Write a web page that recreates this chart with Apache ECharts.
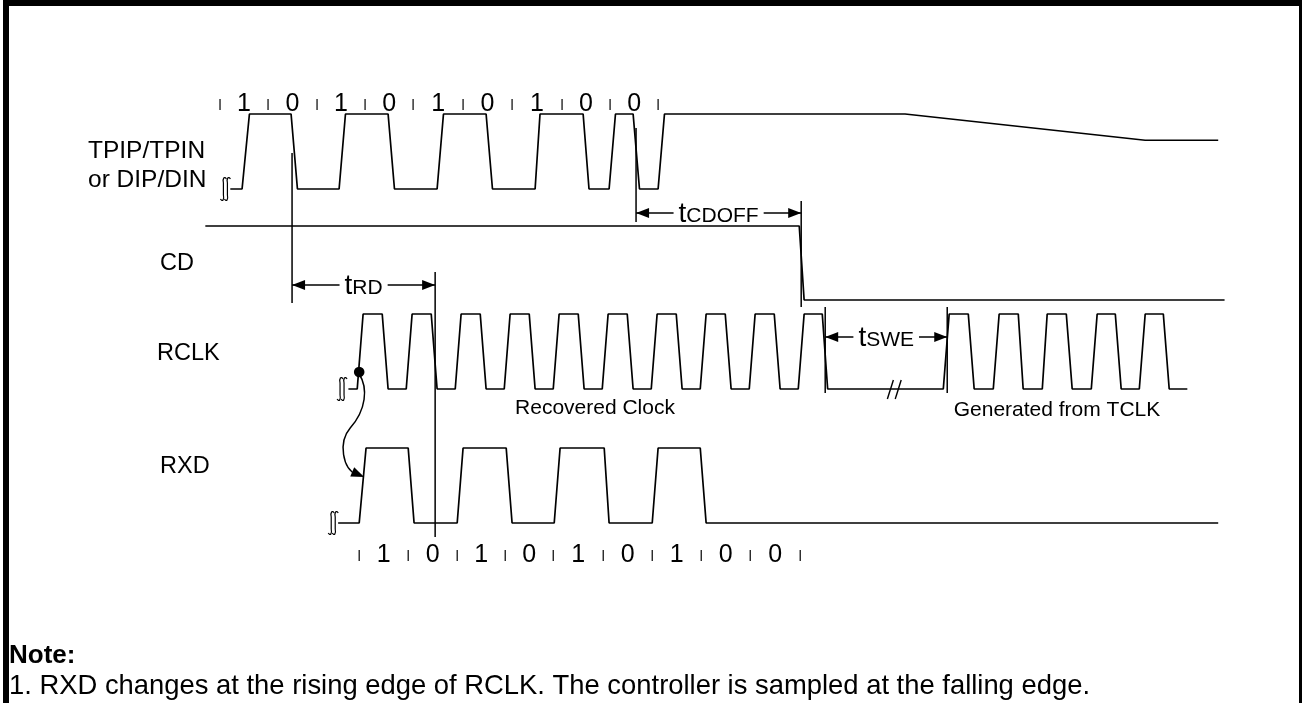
<!DOCTYPE html>
<html>
<head>
<meta charset="utf-8">
<script src="https://cdn.jsdelivr.net/npm/echarts@6/dist/echarts.min.js"></script>
<style>
  html, body { margin: 0; padding: 0; background: #fff; }
  #chart { width: 1302px; height: 703px; }
</style>
</head>
<body>
<div id="chart"></div>
<script>
// time in ns, 0 = first rising edge of the recovered RCLK
const tpipT = [-259, -235, -220, -135, -122, -37, -24, 63, 76, 163, 176, 263, 276, 363, 373, 461, 473, 514, 527, 563, 576, 614, 627, 1118, 1608, 1757];
const tpipV = [0, 0, 1, 1, 0, 0, 1, 1, 0, 0, 1, 1, 0, 0, 1, 1, 0, 0, 1, 1, 0, 0, 1, 1, 0.65, 0.65];

const cdT = [-310, 902, 912, 1770];
const cdV = [1, 1, 0, 0];

const rclkT = [-18, 0, 12, 51, 63, 100, 112, 151, 163, 200, 212, 251, 263, 300, 312, 351, 363,
  400, 412, 451, 463, 500, 512, 551, 563, 600, 612, 651, 663, 700, 712, 751, 763,
  800, 812, 851, 863, 900, 912, 949, 960,
  1196, 1208, 1247, 1259, 1298, 1310, 1349, 1359, 1398, 1408, 1447, 1459,
  1498, 1510, 1547, 1559, 1596, 1608, 1645, 1657, 1694];
const rclkV = [0, 0, 1, 1, 0, 0, 1, 1, 0, 0, 1, 1, 0, 0, 1, 1, 0,
  0, 1, 1, 0, 0, 1, 1, 0, 0, 1, 1, 0, 0, 1, 1, 0,
  0, 1, 1, 0, 0, 1, 1, 0,
  0, 1, 1, 0, 0, 1, 1, 0, 0, 1, 1, 0,
  0, 1, 1, 0, 0, 1, 1, 0, 0];

const rxdT = [-39, 4, 18, 104, 116, 204, 216, 304, 316, 402, 414, 504, 514, 602, 614, 700, 712, 1757];
const rxdV = [0, 0, 1, 1, 0, 0, 1, 1, 0, 0, 1, 1, 0, 0, 1, 1, 0, 0];

// bit cell boundaries and values
const topTicks = [-280, -182, -82, 16, 114, 216, 316, 418, 516, 614];
const topBits = ['1', '0', '1', '0', '1', '0', '1', '0', '0'];
const botTicks = [4, 104, 204, 302, 400, 502, 602, 702, 802, 904];
const botBits = ['1', '0', '1', '0', '1', '0', '1', '0', '0'];

// timing parameters
const spanNames = ['RD', 'CDOFF', 'SWE'];
const spanFrom = [-133, 569, 955];
const spanTo = [159, 906, 1204];

// layout (rows are pixel rows)
const lanes = {
  tpip: { low: 189, amp: 75 },
  cd: { low: 300, amp: 74 },
  rclk: { low: 389, amp: 75 },
  rxd: { low: 523, amp: 75 }
};
const spanRow = [285, 213, 337];
const markerLines = [[-133, 153, 303], [159, 272, 537], [569, 128, 222], [906, 201, 307], [955, 307, 393], [1204, 307, 393]];
const breakAt = [[-269, 189], [-31, 389], [-49, 523]];
const skipAt = [[1088, 389], [1104, 389]];
const FONT = '"Liberation Sans", Arial, sans-serif';

const chart = echarts.init(document.getElementById('chart'));

function wave(ts, vs, lane) {
  return {
    type: 'line',
    data: ts.map((t, i) => [t, lane.low - vs[i] * lane.amp]),
    symbol: 'none',
    silent: true,
    lineStyle: { color: '#000', width: 1.7 }
  };
}

function bitSeries(ticks, bits, row) {
  const mids = bits.map((b, i) => [(ticks[i] + ticks[i + 1]) / 2, row]);
  return [
    {
      type: 'custom', silent: true, clip: false,
      data: ticks.map(t => [t, row]),
      renderItem: (params, api) => {
        const p = api.coord([api.value(0), api.value(1)]);
        return { type: 'line', shape: { x1: p[0], y1: p[1] - 5, x2: p[0], y2: p[1] + 6 }, style: { stroke: '#000', lineWidth: 1.2 } };
      }
    },
    {
      type: 'custom', silent: true, clip: false,
      data: mids,
      renderItem: (params, api) => {
        const p = api.coord([api.value(0), api.value(1)]);
        return { type: 'text', x: p[0], y: p[1], style: { text: bits[params.dataIndex], fill: '#000', fontSize: 25, fontFamily: FONT, align: 'center', verticalAlign: 'middle' } };
      }
    }
  ];
}

function label(text, x, y, size, extra) {
  return Object.assign({ type: 'text', x: x, y: y, silent: true, style: Object.assign({ text: text, fill: '#000', fontSize: size, fontFamily: FONT, verticalAlign: 'middle' }, extra || {}) });
}

const option = {
  animation: false,
  grid: { left: 0, right: 0, top: 0, bottom: 0 },
  xAxis: { type: 'value', min: -729, max: 1928, show: false },
  yAxis: { type: 'value', min: 0, max: 703, inverse: true, show: false },
  graphic: [
    { type: 'rect', shape: { x: 3, y: 0, width: 6, height: 703 }, style: { fill: '#000' } },
    { type: 'rect', shape: { x: 3, y: 0, width: 1299, height: 6 }, style: { fill: '#000' } },
    { type: 'rect', shape: { x: 1299, y: 0, width: 3, height: 703 }, style: { fill: '#000' } },
    label('TPIP/TPIN', 88, 151, 24.5),
    label('or DIP/DIN', 88, 180, 24.5),
    label('CD', 160, 264, 23.5),
    label('RCLK', 157, 354, 23.5),
    label('RXD', 160, 467, 23.5),
    label('Recovered Clock', 595, 408, 21, { align: 'center' }),
    label('Generated from TCLK', 1057, 410, 21, { align: 'center' }),
    label('Note:', 9, 656, 26, { fontWeight: 'bold' }),
    label('1. RXD changes at the rising edge of RCLK. The controller is sampled at the falling edge.', 9, 686, 27.4)
  ],
  series: [
    wave(tpipT, tpipV, lanes.tpip),
    wave(cdT, cdV, lanes.cd),
    wave(rclkT, rclkV, lanes.rclk),
    wave(rxdT, rxdV, lanes.rxd),
    ...bitSeries(topTicks, topBits, 104),
    ...bitSeries(botTicks, botBits, 555),
    {
      // reference lines
      type: 'custom', silent: true, clip: false,
      data: markerLines,
      renderItem: (params, api) => {
        const a = api.coord([api.value(0), api.value(1)]);
        const b = api.coord([api.value(0), api.value(2)]);
        return { type: 'line', shape: { x1: a[0], y1: a[1], x2: b[0], y2: b[1] }, style: { stroke: '#000', lineWidth: 1.5 } };
      }
    },
    {
      // timing arrows
      type: 'custom', silent: true, clip: false,
      data: spanFrom.map((f, i) => [f, spanTo[i], spanRow[i]]),
      renderItem: (params, api) => {
        const a = api.coord([api.value(0), api.value(2)]);
        const b = api.coord([api.value(1), api.value(2)]);
        const y = a[1], hl = 13, hw = 5;
        return {
          type: 'group', children: [
            { type: 'line', shape: { x1: a[0], y1: y, x2: b[0], y2: y }, style: { stroke: '#000', lineWidth: 1.5 } },
            { type: 'polygon', shape: { points: [[a[0], y], [a[0] + hl, y - hw], [a[0] + hl, y + hw]] }, style: { fill: '#000' } },
            { type: 'polygon', shape: { points: [[b[0], y], [b[0] - hl, y - hw], [b[0] - hl, y + hw]] }, style: { fill: '#000' } },
            {
              type: 'text', x: (a[0] + b[0]) / 2, y: y + 1,
              style: {
                text: '{t|t}{s|' + spanNames[params.dataIndex] + '}',
                rich: {
                  t: { fontSize: 28, fontFamily: FONT, fill: '#000', verticalAlign: 'bottom' },
                  s: { fontSize: 21, fontFamily: FONT, fill: '#000', verticalAlign: 'bottom', padding: [0, 0, 1, 0] }
                },
                align: 'center', verticalAlign: 'middle', backgroundColor: '#fff', padding: [0, 5]
              }
            }
          ]
        };
      }
    },
    {
      // break symbols at the start of the traces
      type: 'custom', silent: true, clip: false,
      data: breakAt,
      renderItem: (params, api) => {
        const p = api.coord([api.value(0), api.value(1)]);
        const s = (cx, cy) => `M${cx + 3} ${cy - 10} C${cx + 1} ${cy - 13} ${cx - 1} ${cy - 11} ${cx} ${cy - 6} L${cx} ${cy + 6} C${cx + 1} ${cy + 11} ${cx - 1} ${cy + 13} ${cx - 3} ${cy + 10}`;
        return {
          type: 'group', children: [
            { type: 'path', shape: { pathData: s(p[0] - 2, p[1]) }, style: { fill: 'none', stroke: '#000', lineWidth: 1.2 } },
            { type: 'path', shape: { pathData: s(p[0] + 2, p[1]) }, style: { fill: 'none', stroke: '#000', lineWidth: 1.2 } }
          ]
        };
      }
    },
    {
      // "//" time skip marks
      type: 'custom', silent: true, clip: false,
      data: skipAt,
      renderItem: (params, api) => {
        const p = api.coord([api.value(0), api.value(1)]);
        return { type: 'line', shape: { x1: p[0] - 3, y1: p[1] + 10, x2: p[0] + 3, y2: p[1] - 9 }, style: { stroke: '#000', lineWidth: 1.4 } };
      }
    },
    {
      // RCLK rising edge -> RXD change
      type: 'custom', silent: true, clip: false,
      data: [[4, 372]],
      renderItem: (params, api) => {
        const p = api.coord([api.value(0), api.value(1)]);
        const x = p[0], y = p[1];
        const d = `M${x} ${y + 2} C${x + 9} ${y + 16} ${x + 7} ${y + 38} ${x - 9} ${y + 56} C${x - 21} ${y + 70} ${x - 17} ${y + 97} ${x - 2} ${y + 103}`;
        const tip = [x + 5, y + 105];
        const dir = [0.92, 0.39], nrm = [-0.39, 0.92];
        const bc = [tip[0] - 13 * dir[0], tip[1] - 13 * dir[1]];
        return {
          type: 'group', children: [
            { type: 'circle', shape: { cx: x, cy: y, r: 5.3 }, style: { fill: '#000' } },
            { type: 'path', shape: { pathData: d }, style: { fill: 'none', stroke: '#000', lineWidth: 1.5 } },
            { type: 'polygon', shape: { points: [tip, [bc[0] + 5 * nrm[0], bc[1] + 5 * nrm[1]], [bc[0] - 5 * nrm[0], bc[1] - 5 * nrm[1]]] }, style: { fill: '#000' } }
          ]
        };
      }
    }
  ]
};

chart.setOption(option);
window.addEventListener('resize', () => chart.resize());
</script>
</body>
</html>
